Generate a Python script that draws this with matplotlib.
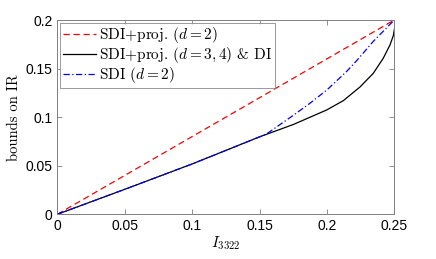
import matplotlib

matplotlib.use("Agg")
import matplotlib.pyplot as plt

# values
x_red = [0.0, 0.25]
y_red = [0.0, 0.2]

x_black = [0.0, 0.05, 0.1, 0.15, 0.1752, 0.2, 0.2122, 0.2245, 0.2344, 0.2418, 0.2468, 0.2493, 0.25]
y_black = [0.0, 0.0257, 0.0518, 0.0797, 0.0925, 0.1075, 0.117, 0.131, 0.1451, 0.1606, 0.1743, 0.184, 0.19]

x_blue = [0.0, 0.05, 0.1, 0.15, 0.155, 0.1752, 0.1876, 0.2, 0.2146, 0.222, 0.2344, 0.25]
y_blue = [0.0, 0.0257, 0.0518, 0.0797, 0.0825, 0.102, 0.1145, 0.128, 0.147, 0.158, 0.178, 0.2]

x_ticks = [0, 0.05, 0.1, 0.15, 0.2, 0.25]
x_tick_labels = ["0", "0.05", "0.1", "0.15", "0.2", "0.25"]
y_ticks = [0, 0.05, 0.1, 0.15, 0.2]
y_tick_labels = ["0", "0.05", "0.1", "0.15", "0.2"]

labels = [
    r"SDI+proj. ($d=2$)",
    r"SDI+proj. ($d=3,4$) & DI",
    r"SDI ($d=2$)",
]

plt.rcParams["mathtext.fontset"] = "cm"
plt.rcParams["axes.formatter.use_mathtext"] = True

serif = "cmr10"
axis_gray = "#808080"

fig = plt.figure(figsize=(4.36, 2.59), dpi=100)
ax = fig.add_axes([57.3 / 436, 1 - 214.3 / 259, (394.3 - 57.3) / 436, (214.3 - 20) / 259])

ax.plot(x_red, y_red, color="red", linestyle=(0, (5, 3)), linewidth=0.9, label=labels[0])
ax.plot(x_black, y_black, color="black", linestyle="-", linewidth=0.9, label=labels[1])
ax.plot(x_blue, y_blue, color="blue", linestyle=(0, (5, 2, 1, 2)), linewidth=0.9, label=labels[2])

ax.set_xlim(0, 0.25)
ax.set_ylim(0, 0.2)
ax.set_xticks(x_ticks)
ax.set_xticklabels(x_tick_labels)
ax.set_yticks(y_ticks)
ax.set_yticklabels(y_tick_labels)
ax.tick_params(direction="in", length=3.5, width=0.6, color=axis_gray,
               top=True, right=True, labelsize=10, labelcolor="black")
for lab in ax.get_xticklabels() + ax.get_yticklabels():
    lab.set_family("Liberation Sans")
for spine in ax.spines.values():
    spine.set_color(axis_gray)
    spine.set_linewidth(0.7)

ax.set_xlabel(r"$I_{3322}$", fontsize=11, labelpad=1)
ax.set_ylabel("bounds on IR", fontsize=10.5, family=serif, labelpad=3)

leg = ax.legend(loc="upper left", prop={"family": serif, "size": 11},
                frameon=True, fancybox=False, borderaxespad=0.2,
                handlelength=2.2, handletextpad=0.2, borderpad=0.15,
                labelspacing=0.0)
leg.get_frame().set_edgecolor(axis_gray)
leg.get_frame().set_linewidth(0.7)

fig.savefig("out.png", dpi=100)
